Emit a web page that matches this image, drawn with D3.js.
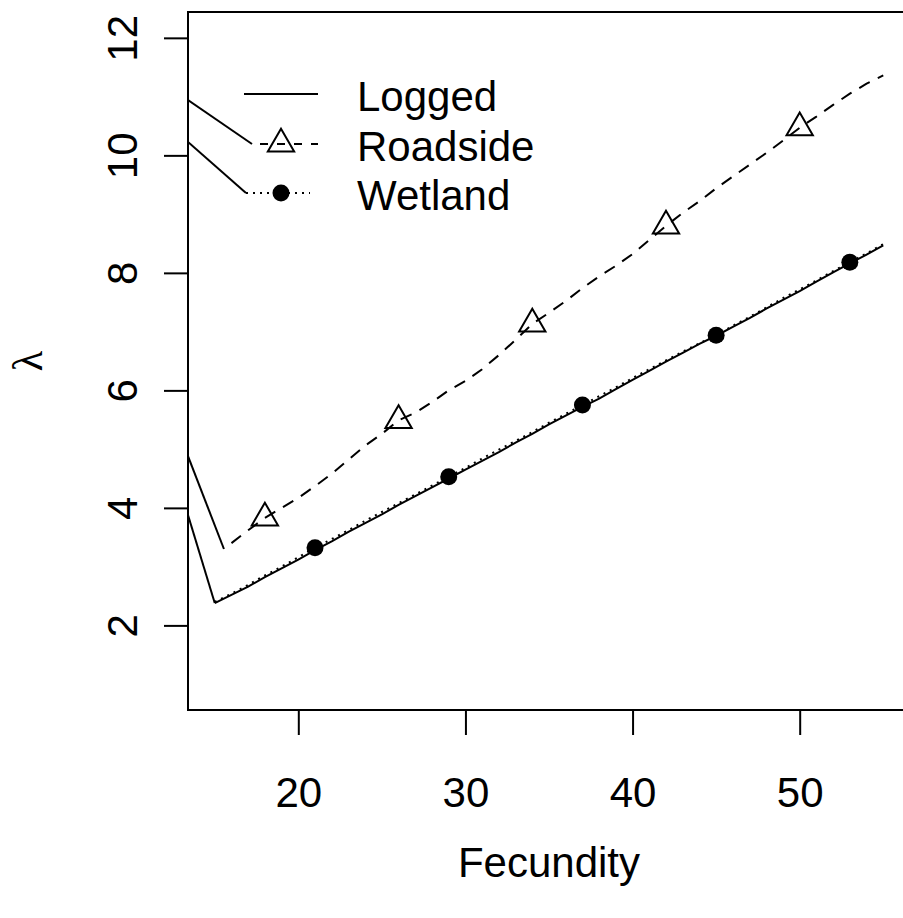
<!DOCTYPE html>
<html>
<head>
<meta charset="utf-8">
<script src="https://d3js.org/d3.v7.min.js"></script>
<title>Fecundity vs lambda</title>
</head>
<style>
body { margin: 0; background: #fff; }
svg { display: block; }
text { font-family: "Liberation Sans", Arial, Helvetica, sans-serif; fill: #000; }
</style>
<body>
<svg width="903" height="918"></svg>
</body>
<script>

// data
let fecundity = [15,16,17,18,19,20,21,22,23,24,25,26,27,28,29,30,31,32,33,34,35,
                 36,37,38,39,40,41,42,43,44,45,46,47,48,49,50,51,52,53,54,55];
let logged = [2.38,2.52,2.66,2.82,2.97,3.12,3.28,3.43,3.59,3.74,3.89,4.05,4.20,4.35,4.50,4.65,4.80,4.95,5.11,5.26,5.42,
              5.57,5.72,5.86,6.02,6.18,6.33,6.49,6.64,6.79,6.93,7.08,7.23,7.39,7.54,7.69,7.85,8.01,8.16,8.31,8.47];
let wetland = [2.40,2.54,2.69,2.85,3.00,3.16,3.32,3.47,3.62,3.78,3.93,4.08,4.23,4.38,4.53,4.68,4.84,4.99,5.14,5.29,5.45,
               5.60,5.75,5.90,6.05,6.21,6.36,6.51,6.66,6.80,6.94,7.10,7.25,7.41,7.57,7.72,7.87,8.03,8.18,8.33,8.49];
let roadsideX = [16,17,18,19,20,21,22,23,24,25,26,27,28,29,30,31,32,33,34,35,
                 36,37,38,39,40,41,42,43,44,45,46,47,48,49,50,51,52,53,54,55];
let roadside = [3.40,3.62,3.83,4.00,4.17,4.37,4.58,4.82,5.06,5.26,5.49,5.62,5.80,6.00,6.16,6.36,6.60,6.86,7.13,7.32,
                7.52,7.74,7.94,8.12,8.32,8.56,8.80,9.02,9.22,9.44,9.64,9.84,10.04,10.25,10.47,10.66,10.86,11.05,11.22,11.36];
let roadsideMarks = [18,26,34,42,50];
let wetlandMarks = [21,29,37,45,53];

// stray segments coming in from the left edge
let roadsideLead = [[13.4,4.88],[15.55,3.30]];
let loggedLead = [[13.4,3.88],[15,2.38]];

let xTicks = [20,30,40,50];
let yTicks = [2,4,6,8,10,12];
let seriesNames = ["Logged","Roadside","Wetland"];

let margin = {left:188, top:12, right:910, bottom:710};
let fontSize = 42;

let svg = d3.select("svg");

let x = d3.scaleLinear().domain([13.4,56.6]).range([margin.left, margin.right]);
let y = d3.scaleLinear().domain([0.56,12.44]).range([margin.bottom, margin.top]);

svg.append("clipPath").attr("id","plotclip")
  .append("rect")
  .attr("x", margin.left).attr("y", margin.top)
  .attr("width", margin.right - margin.left).attr("height", margin.bottom - margin.top);

let plot = svg.append("g").attr("clip-path","url(#plotclip)");

let line = d3.line().x(d => x(d[0])).y(d => y(d[1]));

function pairs(xs, ys) {
  return xs.map((v,i) => [v, ys[i]]);
}

// lead-in segments
plot.append("path").datum(roadsideLead).attr("d", line)
  .attr("fill","none").attr("stroke","#000").attr("stroke-width",2);
plot.append("path").datum(loggedLead).attr("d", line)
  .attr("fill","none").attr("stroke","#000").attr("stroke-width",2);

// series lines
plot.append("path").datum(pairs(fecundity, logged)).attr("d", line)
  .attr("fill","none").attr("stroke","#000").attr("stroke-width",2);
plot.append("path").datum(pairs(fecundity, wetland)).attr("d", line)
  .attr("fill","none").attr("stroke","#000").attr("stroke-width",2)
  .attr("stroke-dasharray","2,5");
plot.append("path").datum(pairs(roadsideX, roadside)).attr("d", line)
  .attr("fill","none").attr("stroke","#000").attr("stroke-width",2)
  .attr("stroke-dasharray","12,9");

let tri = d3.symbol().type(d3.symbolTriangle).size(300);

plot.selectAll(".tri").data(roadsideMarks).enter().append("path")
  .attr("class","tri")
  .attr("d", tri)
  .attr("transform", d => "translate(" + x(d) + "," + y(roadside[roadsideX.indexOf(d)]) + ")")
  .attr("fill","none").attr("stroke","#000").attr("stroke-width",2);

plot.selectAll(".dot").data(wetlandMarks).enter().append("circle")
  .attr("class","dot")
  .attr("cx", d => x(d))
  .attr("cy", d => y(wetland[fecundity.indexOf(d)]))
  .attr("r", 8.5)
  .attr("fill","#000");

// box
svg.append("rect")
  .attr("x", margin.left).attr("y", margin.top)
  .attr("width", margin.right - margin.left).attr("height", margin.bottom - margin.top)
  .attr("fill","none").attr("stroke","#000").attr("stroke-width",2);

// axes
let xAxis = svg.append("g")
  .attr("transform","translate(0," + margin.bottom + ")")
  .call(d3.axisBottom(x).tickValues(xTicks).tickSize(25).tickSizeOuter(0));
xAxis.select(".domain").remove();
xAxis.selectAll("line").attr("stroke","#000").attr("stroke-width",2);
xAxis.selectAll("text")
  .attr("y", 97).attr("dy", null)
  .attr("font-size", fontSize).attr("font-family", null);

let yAxis = svg.append("g")
  .attr("transform","translate(" + margin.left + ",0)")
  .call(d3.axisLeft(y).tickValues(yTicks).tickSize(24).tickSizeOuter(0));
yAxis.select(".domain").remove();
yAxis.selectAll("line").attr("stroke","#000").attr("stroke-width",2);
yAxis.selectAll("text")
  .attr("transform","rotate(-90)")
  .attr("x", 0).attr("y", -51).attr("dy", null)
  .attr("text-anchor","middle")
  .attr("font-size", fontSize).attr("font-family", null);

// axis titles
svg.append("text")
  .attr("x", (margin.left + margin.right) / 2).attr("y", 877)
  .attr("text-anchor","middle")
  .attr("font-size", fontSize)
  .text("Fecundity");

svg.append("text")
  .attr("transform","translate(42," + (margin.top + margin.bottom) / 2 + ") rotate(-90)")
  .attr("text-anchor","middle")
  .attr("font-size", fontSize)
  .style("font-family","'Liberation Serif', 'DejaVu Serif', serif")
  .text("λ");

// legend
let legX = 244, legLen = 74, textX = 357;
let rowY = [94, 144, 193];

let legend = svg.append("g").attr("clip-path","url(#plotclip)");

// stray lines into the legend from the left border
legend.append("line")
  .attr("x1", margin.left).attr("y1", rowY[1] - 44)
  .attr("x2", legX + 8).attr("y2", rowY[1])
  .attr("stroke","#000").attr("stroke-width",2);
legend.append("line")
  .attr("x1", margin.left).attr("y1", rowY[2] - 51)
  .attr("x2", legX + 2).attr("y2", rowY[2])
  .attr("stroke","#000").attr("stroke-width",2);

legend.append("line")
  .attr("x1", legX).attr("y1", rowY[0]).attr("x2", legX + legLen).attr("y2", rowY[0])
  .attr("stroke","#000").attr("stroke-width",2);
legend.append("line")
  .attr("x1", legX + 16).attr("y1", rowY[1]).attr("x2", legX + legLen).attr("y2", rowY[1])
  .attr("stroke","#000").attr("stroke-width",2).attr("stroke-dasharray","8,9");
legend.append("path")
  .attr("d", tri)
  .attr("transform","translate(" + (legX + legLen / 2) + "," + rowY[1] + ")")
  .attr("fill","none").attr("stroke","#000").attr("stroke-width",2);
legend.append("line")
  .attr("x1", legX + 2).attr("y1", rowY[2]).attr("x2", legX + legLen - 8).attr("y2", rowY[2])
  .attr("stroke","#000").attr("stroke-width",2).attr("stroke-dasharray","2,5");
legend.append("circle")
  .attr("cx", legX + legLen / 2).attr("cy", rowY[2]).attr("r", 8.5)
  .attr("fill","#000");

legend.selectAll(".legtext").data(seriesNames).enter().append("text")
  .attr("class","legtext")
  .attr("x", textX)
  .attr("y", (d,i) => rowY[i] + 17)
  .attr("font-size", fontSize)
  .text(d => d);

</script>
</html>
